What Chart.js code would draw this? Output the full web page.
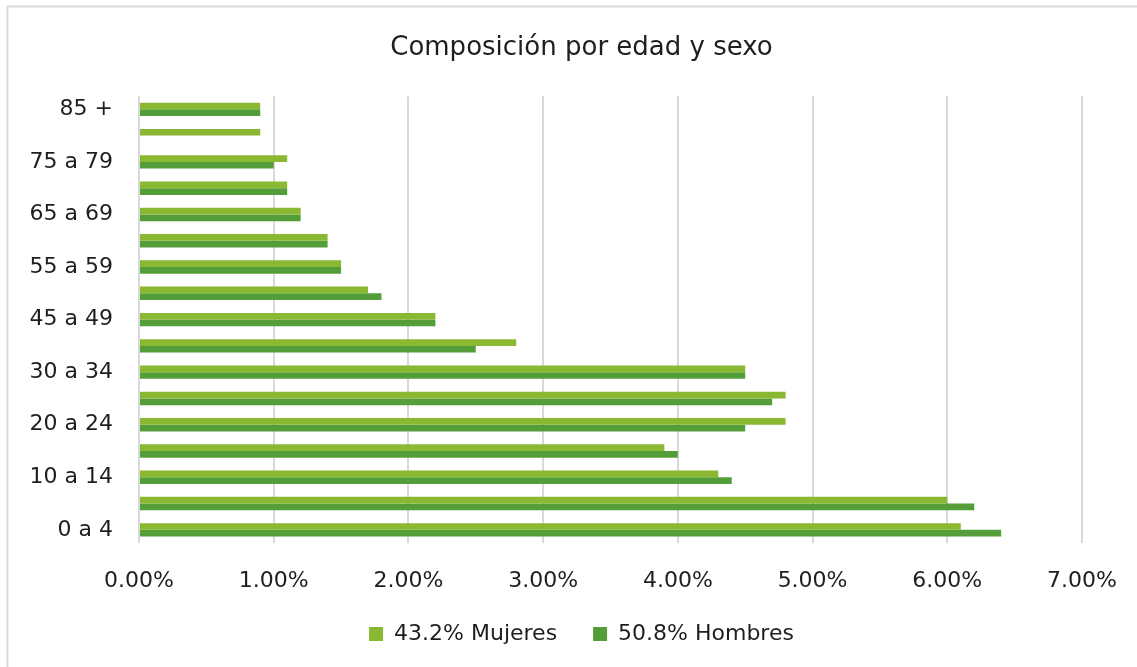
<!DOCTYPE html>
<html lang="es">
<head>
<meta charset="utf-8">
<title>Composición por edad y sexo</title>
<script src="https://cdn.jsdelivr.net/npm/chart.js@4/dist/chart.umd.min.js"></script>
<style>
  html, body { margin: 0; padding: 0; background: #ffffff; }
  #wrap { width: 1137px; height: 667px; position: relative; }
</style>
</head>
<body>
<div id="wrap"><canvas id="chart" width="1137" height="667"></canvas></div>
<script>
// Age groups, youngest first (drawn bottom to top)
const ageGroups = [
  '0 a 4', '5 a 9', '10 a 14', '15 a 19', '20 a 24', '25 a 29', '30 a 34',
  '35 a 44', '45 a 49', '50 a 54', '55 a 59', '60 a 64', '65 a 69',
  '70 a 74', '75 a 79', '80 a 84', '85 +'
];

// Share of population by age group (%)
const mujeres = [6.1, 6.0, 4.3, 3.9, 4.8, 4.8, 4.5, 2.8, 2.2, 1.7, 1.5, 1.4, 1.2, 1.1, 1.1, 0.9, 0.9];
const hombres = [6.4, 6.2, 4.4, 4.0, 4.5, 4.7, 4.5, 2.5, 2.2, 1.8, 1.5, 1.4, 1.2, 1.1, 1.0, null, 0.9];

const seriesNames = ['43.2% Mujeres', '50.8% Hombres'];
const xTicks = [0, 1, 2, 3, 4, 5, 6, 7];

const FONT = "'DejaVu Sans', 'Liberation Sans', sans-serif";
const TEXT = '#1e1e1e';

// Light frame along the top and left edges of the chart area
const framePlugin = {
  id: 'frame',
  beforeDraw(chart) {
    const ctx = chart.ctx;
    ctx.save();
    ctx.fillStyle = '#ffffff';
    ctx.fillRect(0, 0, chart.width, chart.height);
    ctx.strokeStyle = '#d9d9d9';
    ctx.lineWidth = 2;
    ctx.beginPath();
    ctx.moveTo(chart.width, 6.5);
    ctx.lineTo(7.5, 6.5);
    ctx.lineTo(7.5, chart.height);
    ctx.stroke();
    ctx.restore();
  }
};

new Chart(document.getElementById('chart'), {
  type: 'bar',
  data: {
    labels: ageGroups,
    datasets: [
      {
        label: seriesNames[0],
        data: mujeres,
        backgroundColor: '#8AB833',
        categoryPercentage: 0.51,
        barPercentage: 1.0
      },
      {
        label: seriesNames[1],
        data: hombres,
        backgroundColor: '#549E39',
        categoryPercentage: 0.51,
        barPercentage: 1.0
      }
    ]
  },
  plugins: [framePlugin],
  options: {
    indexAxis: 'y',
    responsive: false,
    animation: false,
    layout: { padding: { left: 26, right: 0, top: 0, bottom: 12 } },
    plugins: {
      title: {
        display: true,
        text: 'Composición por edad y sexo',
        color: TEXT,
        font: { family: FONT, size: 26, weight: 'normal' },
        padding: { top: 33, bottom: 32 }
      },
      legend: {
        position: 'bottom',
        labels: {
          color: TEXT,
          font: { family: FONT, size: 22 },
          boxWidth: 14,
          boxHeight: 14,
          padding: 36
        }
      },
      tooltip: { enabled: false }
    },
    scales: {
      x: {
        min: 0,
        max: 7,
        afterBuildTicks(scale) {
          scale.ticks = xTicks.map(v => ({ value: v }));
        },
        afterFit(scale) {
          scale.height = 44;
          scale.paddingRight = 55;
        },
        ticks: {
          color: TEXT,
          font: { family: FONT, size: 22 },
          padding: 25,
          callback: v => Number(v).toFixed(2) + '%'
        },
        grid: { color: '#d9d9d9', lineWidth: 2, drawTicks: false },
        border: { display: false }
      },
      y: {
        reverse: true,
        afterFit(scale) { scale.width = 113; },
        ticks: {
          color: TEXT,
          font: { family: FONT, size: 22 },
          padding: 26,
          autoSkip: false,
          callback(value, index) {
            return index % 2 === 0 ? this.getLabelForValue(value) : '';
          }
        },
        grid: { display: false, drawTicks: false },
        border: { display: false }
      }
    }
  }
});
</script>
</body>
</html>
